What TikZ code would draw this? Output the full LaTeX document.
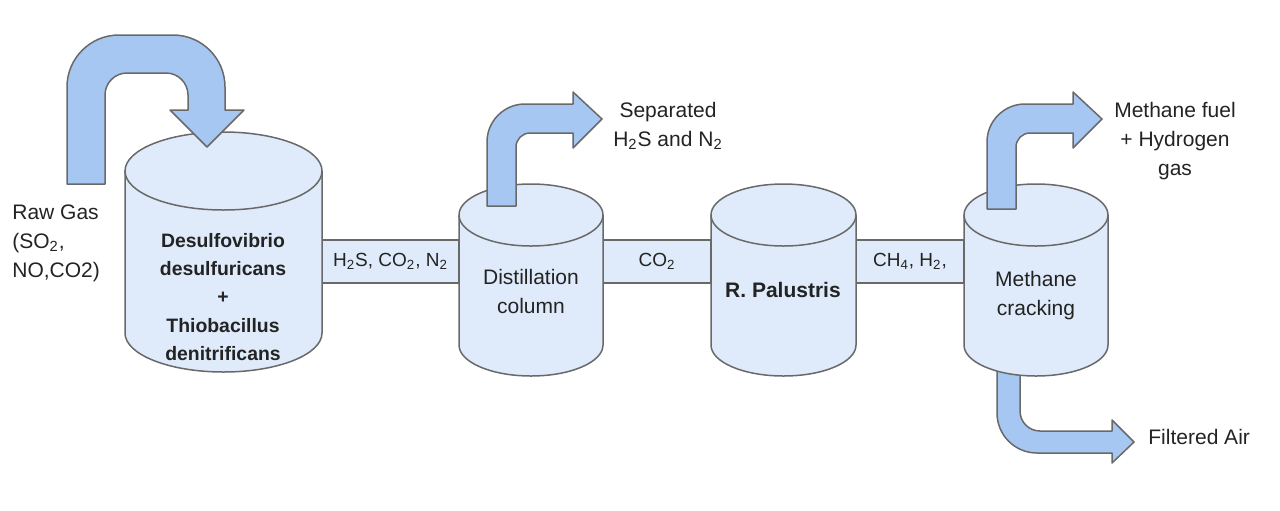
\documentclass[tikz,border=0pt]{standalone}
\usepackage{fontspec}
\setmainfont{Liberation Sans}
\usetikzlibrary{arrows.meta}

\definecolor{tankblue}{RGB}{223,235,250}
\definecolor{flowblue}{RGB}{166,199,242}
\definecolor{edgegray}{RGB}{105,105,105}
\definecolor{inkgray}{RGB}{35,35,35}

\tikzset{
    tank/.style={draw=edgegray, fill=tankblue, line width=0.75pt},
    pipe/.style={draw=edgegray, fill=tankblue, line width=0.75pt},
    flow/.style={draw=edgegray, fill=flowblue, line width=0.75pt, line join=round},
    txt/.style={text=inkgray, align=center, inner sep=0pt, font=\fontsize{10.5}{14.5}\selectfont},
    bold txt/.style={txt, font=\fontsize{9.7}{14.2}\selectfont\bfseries},
    gas/.style={txt, font=\fontsize{9.5}{12}\selectfont}
}

\begin{document}
\begin{tikzpicture}[x=0.5pt, y=-0.5pt]
        \useasboundingbox (0,0) rectangle (1280,510);
        % pipe ends on the tank walls
        \coordinate (reactor-r) at (322,240);
        \coordinate (still-l) at (459,240);
        \coordinate (still-r) at (603,240);
        \coordinate (palus-l) at (711,240);
        \coordinate (palus-r) at (856,240);
        \coordinate (crack-l) at (964,240);
        % pipes between the tanks
        \draw[pipe] (reactor-r) rectangle ([yshift=-21.5pt]still-l)
            node [midway, gas] {H\textsubscript{2}S, CO\textsubscript{2}, N\textsubscript{2}};
        \draw[pipe] (still-r) rectangle ([yshift=-21.5pt]palus-l)
            node [midway, gas] {CO\textsubscript{2}};
        \draw[pipe] (palus-r) rectangle ([yshift=-21.5pt]crack-l)
            node [midway, gas] {CH\textsubscript{4}, H\textsubscript{2},};
        % filtered air leaves below the cracking tank
        \draw[flow] (997,365) -- (997,413) arc[start angle=180, end angle=270, radius=20pt]
            -- (1112,453) -- (1112,463) -- (1134,442) -- (1112,420) -- (1112,431)
            -- (1040,431) arc[start angle=270, end angle=180, radius=10pt] -- (1020,365) -- cycle;
        % tank 1: bioreactor
        \draw[tank] (125,171) -- (125,333) arc[start angle=180, end angle=360, x radius=49.25pt, y radius=19.5pt] -- (322,171);
        \draw[tank] (223.5,171) ellipse [x radius=49.25pt, y radius=19.5pt];
        % tank 2: distillation
        \draw[tank] (459,215) -- (459,345) arc[start angle=180, end angle=360, x radius=36pt, y radius=15.5pt] -- (603,215);
        \draw[tank] (531,215) ellipse [x radius=36pt, y radius=15.5pt];
        % tank 3: R. palustris
        \draw[tank] (711,215) -- (711,345) arc[start angle=180, end angle=360, x radius=36.25pt, y radius=15.5pt] -- (856,215);
        \draw[tank] (783.5,215) ellipse [x radius=36.25pt, y radius=15.5pt];
        % tank 4: methane cracking
        \draw[tank] (964,215) -- (964,345) arc[start angle=180, end angle=360, x radius=36pt, y radius=15.5pt] -- (1108,215);
        \draw[tank] (1036,215) ellipse [x radius=36pt, y radius=15.5pt];
        % raw gas fed in over the top
        \draw[flow] (67,184) -- (67,87) arc[start angle=180, end angle=90, radius=26pt]
            -- (173,35) arc[start angle=90, end angle=0, radius=26pt]
            -- (225,110) -- (244,110) -- (207,147) -- (170,110) -- (188,110)
            -- (188,95) arc[start angle=0, end angle=90, radius=11pt]
            -- (127,73) arc[start angle=90, end angle=180, radius=11pt] -- (105,184) -- cycle;
        % gas out of the distillation column
        \draw[flow] (487,206) -- (487,142) arc[start angle=180, end angle=90, radius=19pt]
            -- (573,104) -- (573,92) -- (602,119) -- (573,148) -- (573,133)
            -- (530,133) arc[start angle=90, end angle=180, radius=7pt] -- (516,206) -- cycle;
        % fuel out of the cracking tank
        \draw[flow] (987,209) -- (987,142) arc[start angle=180, end angle=90, radius=19pt]
            -- (1073,104) -- (1073,92) -- (1102,119) -- (1073,148) -- (1073,133)
            -- (1030,133) arc[start angle=90, end angle=180, radius=7pt] -- (1016,209) -- cycle;
        % labels
        \node[txt, align=left, anchor=west] (rawgas) at (12,243) {Raw Gas\\(SO\textsubscript{2},\\NO,CO2)};
        \node[bold txt] (reactor) at (223,297) {Desulfovibrio\\desulfuricans\\+\\Thiobacillus\\denitrificans};
        \node[txt] (still) at (531,291) {Distillation\\column};
        \node[txt, font=\fontsize{10.5}{14.5}\selectfont\bfseries] (palus) at (783,290) {R. Palustris};
        \node[txt] (crack) at (1036,296) {Methane\\cracking};
        \node[txt] (separated) at (668,126) {Separated\\H\textsubscript{2}S and N\textsubscript{2}};
        \node[txt] (fuel) at (1175,141) {Methane fuel\\+ Hydrogen\\gas};
        \node[txt, anchor=west] (air) at (1148,437) {Filtered Air};
    \end{tikzpicture}
\end{document}
